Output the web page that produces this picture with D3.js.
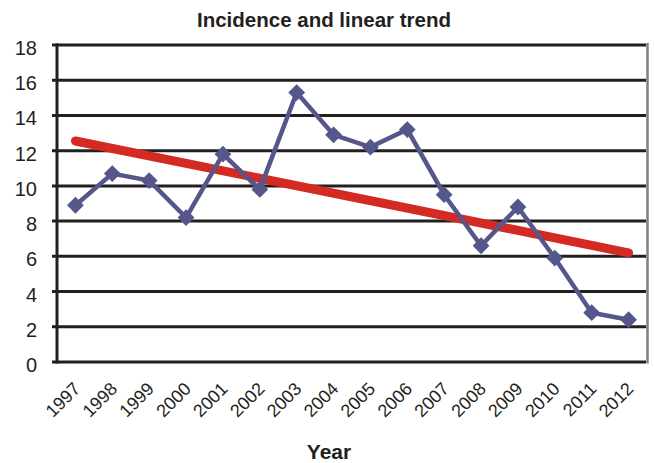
<html>
  <head>
	<title>Incidence and linear trend</title>
	<script src="https://cdn.jsdelivr.net/npm/d3@7/dist/d3.min.js" type="text/javascript" charset="utf-8"></script>
	<style>
	  body { margin: 0; background: #fff; }
	  text { font-family: "Liberation Sans", Arial, sans-serif; fill: #231f20; }
	</style>
  </head>
  <body>
	<svg></svg>
  </body>
  <script type="text/javascript">
	var years = ['1997', '1998', '1999', '2000', '2001', '2002', '2003', '2004',
				 '2005', '2006', '2007', '2008', '2009', '2010', '2011', '2012'];
	var incidence = [8.9, 10.7, 10.3, 8.2, 11.8, 9.8, 15.3, 12.9,
					 12.2, 13.2, 9.5, 6.6, 8.8, 5.9, 2.8, 2.4];
	// trend line ends
	var trendYears = ['1997', '2012'];
	var trendValues = [12.55, 6.2];
	var yTicks = [0, 2, 4, 6, 8, 10, 12, 14, 16, 18];

	(function() {
	  var width = 654, height = 463,
		  left = 57, right = 647, top = 45, bottom = 362;

	  var svg = d3.select('svg')
				  .attr('width', width)
				  .attr('height', height);

	  var x = d3.scaleBand().domain(years).range([left, right]);
	  var y = d3.scaleLinear().domain([0, 18]).range([bottom, top]);
	  var cx = function(d) { return x(d) + x.bandwidth() / 2; };

	  // horizontal gridlines + small ticks on the left
	  svg.selectAll('.grid')
		 .data(yTicks)
		 .enter()
		 .append('line')
		 .attr('class', 'grid')
		 .attr('x1', left - 5)
		 .attr('x2', right - 1)
		 .attr('y1', function(d) { return y(d); })
		 .attr('y2', function(d) { return y(d); })
		 .attr('stroke', '#231f20')
		 .attr('stroke-width', 3);

	  // right border
	  svg.append('line')
		 .attr('x1', right + 0.5).attr('x2', right + 0.5)
		 .attr('y1', top - 2).attr('y2', bottom + 1.5)
		 .attr('stroke', '#808080')
		 .attr('stroke-width', 2.5);

	  // y axis line
	  svg.append('line')
		 .attr('x1', left).attr('x2', left)
		 .attr('y1', top - 1.5).attr('y2', bottom + 1.5)
		 .attr('stroke', '#231f20')
		 .attr('stroke-width', 3);

	  svg.selectAll('.y-labels')
		 .data(yTicks)
		 .enter()
		 .append('text')
		 .attr('class', 'y-labels')
		 .attr('x', 37)
		 .attr('y', function(d) { return y(d) + 10; })
		 .attr('text-anchor', 'end')
		 .attr('font-size', 20)
		 .text(function(d) { return d; });

	  svg.selectAll('.x-labels')
		 .data(years)
		 .enter()
		 .append('text')
		 .attr('class', 'x-labels')
		 .attr('text-anchor', 'end')
		 .attr('font-size', 18)
		 .attr('transform', function(d) {
			return 'translate(' + (cx(d) + 6) + ',' + (bottom + 28) + ') rotate(-45)';
		 })
		 .text(function(d) { return d; });

	  // trend
	  var trendLine = d3.line()
						.x(function(d, i) { return cx(trendYears[i]); })
						.y(function(d) { return y(d); });
	  svg.append('path')
		 .attr('d', trendLine(trendValues))
		 .attr('fill', 'none')
		 .attr('stroke', '#d42a24')
		 .attr('stroke-width', 9)
		 .attr('stroke-linecap', 'round');

	  // incidence series
	  var line = d3.line()
				   .x(function(d, i) { return cx(years[i]); })
				   .y(function(d) { return y(d); });
	  svg.append('path')
		 .attr('d', line(incidence))
		 .attr('fill', 'none')
		 .attr('stroke', '#55578a')
		 .attr('stroke-width', 4.5);

	  svg.selectAll('.marker')
		 .data(incidence)
		 .enter()
		 .append('path')
		 .attr('class', 'marker')
		 .attr('d', d3.symbol().type(d3.symbolDiamond2).size(180))
		 .attr('transform', function(d, i) {
			return 'translate(' + cx(years[i]) + ',' + y(d) + ')';
		 })
		 .attr('fill', '#55578a');

	  svg.append('text')
		 .attr('x', 324)
		 .attr('y', 27)
		 .attr('text-anchor', 'middle')
		 .attr('font-size', 20.5)
		 .attr('font-weight', 'bold')
		 .text('Incidence and linear trend');

	  svg.append('text')
		 .attr('x', 329)
		 .attr('y', 459)
		 .attr('text-anchor', 'middle')
		 .attr('font-size', 21)
		 .attr('font-weight', 'bold')
		 .text('Year');
	})();
  </script>
</html>
